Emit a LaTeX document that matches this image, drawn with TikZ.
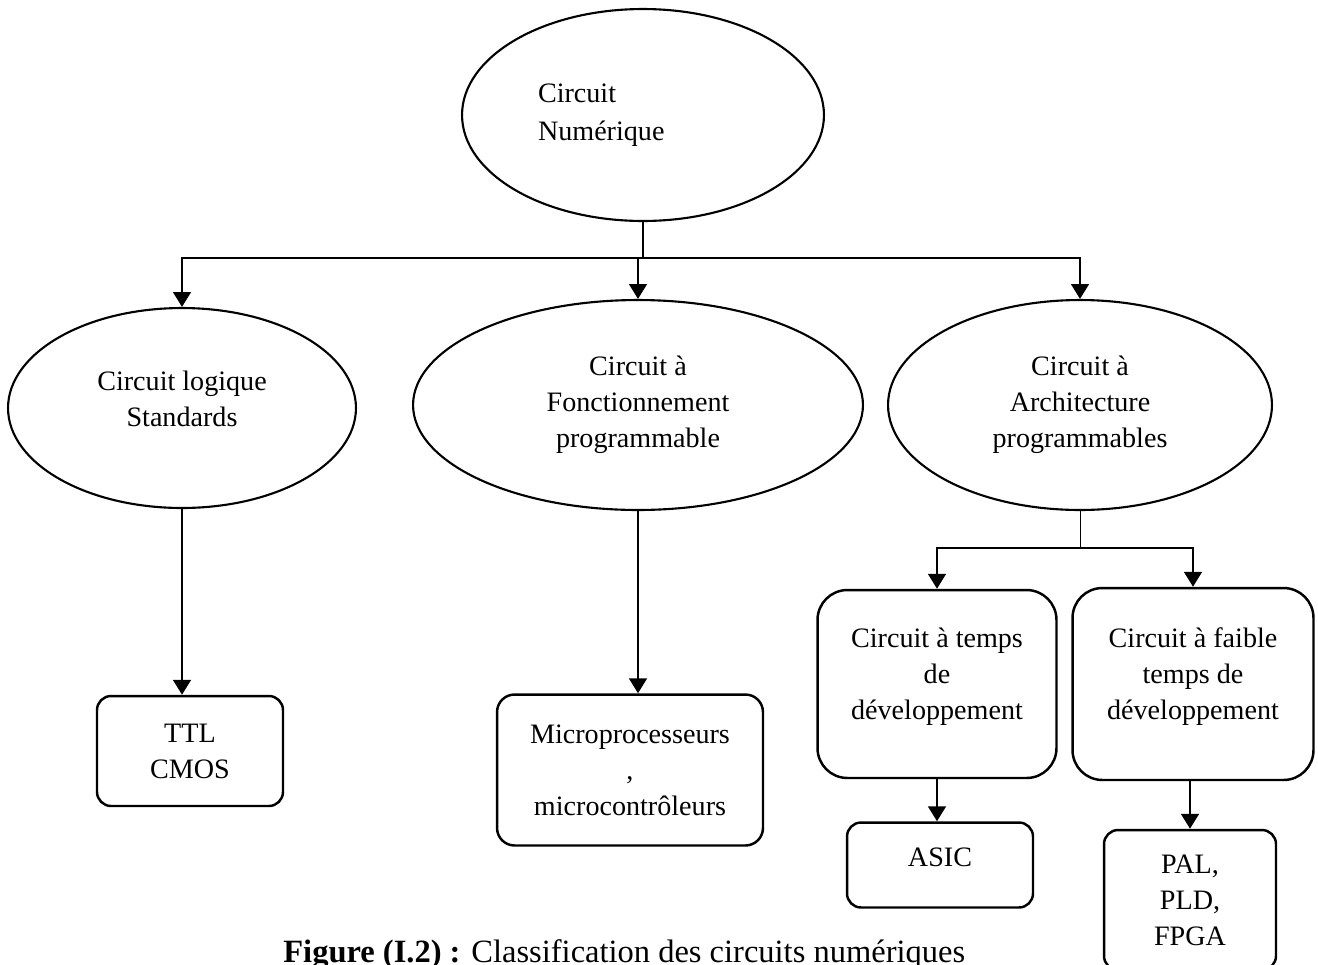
\documentclass[tikz,border=0pt]{standalone}
\usepackage{fontspec}
\setmainfont{Liberation Serif}
\usetikzlibrary{shapes.geometric,arrows.meta}
\tikzset{
  oval/.style={ellipse,draw,line width=1.2pt,align=center,inner sep=0pt},
  boite/.style={rectangle,draw,line width=1.4pt,rounded corners=8pt,align=center},
  grande/.style={boite,rounded corners=17pt},
  lien/.style={line width=1.6pt},
  fleche/.style={lien,-{Triangle[length=8.5pt,width=10pt]}}
}
\begin{document}
\begin{tikzpicture}[x=0.02cm,y=-0.02cm,font=\fontsize{16}{20.5}\selectfont]
\useasboundingbox (0,0) rectangle (1318,964);
% niveau 1
\node[oval,minimum width=7.24cm,minimum height=4.24cm,text width=4.2cm,align=left] (num) at (643,115) {Circuit\\[1pt]Numérique\\[-14.5pt]};
% niveau 2
\node[oval,minimum width=6.96cm,minimum height=4cm] (std) at (182,408) {Circuit logique\\Standards\\[-10pt]};
\node[oval,minimum width=9cm,minimum height=4.2cm] (fct) at (638,405) {Circuit à\\Fonctionnement\\programmable};
\node[oval,minimum width=7.68cm,minimum height=4.2cm] (arch) at (1080,405) {Circuit à\\Architecture\\programmables};
% niveau 3
\node[boite,minimum width=3.72cm,minimum height=2.2cm] (ttl) at (190,751) {TTL\\CMOS};
\node[boite,rounded corners=10pt,minimum width=5.32cm,minimum height=3.02cm] (micro) at (630,770) {Microprocesseurs\\,\\microcontrôleurs};
\node[grande,minimum width=4.78cm,minimum height=3.76cm] (lent) at (937,684) {Circuit à temps\\de\\développement\\[-9pt]};
\node[grande,minimum width=4.82cm,minimum height=3.84cm] (rapide) at (1193,684) {Circuit à faible\\temps de\\développement\\[-9pt]};
% niveau 4
\node[boite,minimum width=3.72cm,minimum height=1.7cm] (asic) at (940,865) {ASIC\\[-11.5pt]};
\node[boite,minimum width=3.44cm,minimum height=2.8cm] (pal) at (1190,900) {PAL,\\PLD,\\FPGA};
% connecteurs
\coordinate (bus) at (643,258);
\coordinate (bus2) at (1080,548);
\draw[lien] (num.south) -- (bus);
\draw[fleche] (bus) -| (std.north);
\draw[fleche] (bus) -| (arch.north);
\draw[fleche] (bus -| fct.north) -- (fct.north);
\draw[fleche] (std.south) -- (std.south |- ttl.north);
\draw[fleche] (fct.south) -- (fct.south |- micro.north);
\draw[line width=0.5pt] (arch.south) -- (bus2);
\draw[fleche] (bus2) -| (lent.north);
\draw[fleche] (bus2) -| (rapide.north);
\draw[fleche] (lent.south) -- (lent.south |- asic.north);
\draw[fleche] (rapide.south -| pal.north) -- (pal.north);
% legende
\node[anchor=base west,inner sep=0pt,font=\fontsize{18.5}{22}\selectfont] (leg) at (283,962) {\textbf{Figure (I.2) :} Classification des circuits numériques};
\end{tikzpicture}
\end{document}
